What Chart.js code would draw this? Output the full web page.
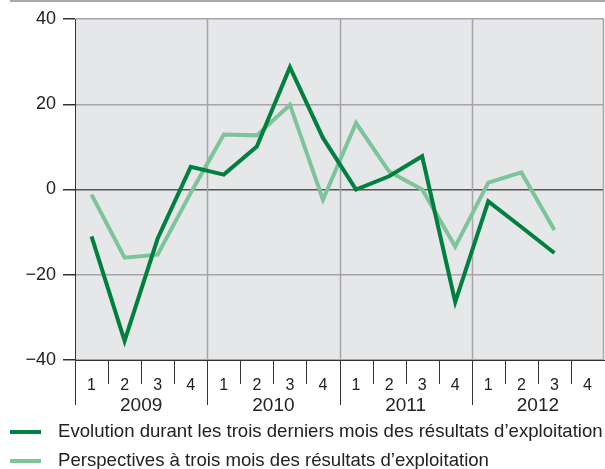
<!DOCTYPE html>
<html>
<head>
<meta charset="utf-8">
<script src="https://cdn.jsdelivr.net/npm/chart.js@4"></script>
<style>
  body { margin: 0; background: #fff; }
  #wrap { width: 605px; height: 469px; }
</style>
</head>
<body>
<div id="wrap"><canvas id="myChart" width="605" height="469"></canvas></div>
<script>
// quarters and years
var quarters = ['1','2','3','4','1','2','3','4','1','2','3','4','1','2','3','4'];
var years = ['2009', '2010', '2011', '2012'];

// Evolution durant les trois derniers mois
var evolution = [-11, -35.5, -11.5, 5.3, 3.5, 10.1, 28.7, 12.1, 0, 3.1, 7.8, -26.4, -2.8, -8.8, -14.9, null];
// Perspectives a trois mois
var perspectives = [-1.2, -16, -15.3, -0.8, 12.9, 12.7, 19.9, -2.4, 15.6, 4.2, 0, -13.4, 1.6, 4, -9.5, null];

var legendLabels = [
  'Evolution durant les trois derniers mois des r\u00e9sultats d\u2019exploitation',
  'Perspectives \u00e0 trois mois des r\u00e9sultats d\u2019exploitation'
];

var darkGreen = '#00803e';
var lightGreen = '#7dc49a';
var font = '"Liberation Sans", Arial, sans-serif';

// extra drawing: year grid, tick marks under x axis, years, legend
var decorPlugin = {
  id: 'decor',
  beforeDatasetsDraw: function(chart){
    var ctx = chart.ctx, x = chart.scales.x, a = chart.chartArea;
    var step = x.getPixelForValue(1) - x.getPixelForValue(0);
    ctx.save();
    ctx.strokeStyle = '#a5a5a8';
    ctx.lineWidth = 1.5;
    for (var i = 4; i < quarters.length; i += 4){
      var px = Math.round(x.getPixelForValue(i) - step/2) + 0.5;
      ctx.beginPath();
      ctx.moveTo(px, a.top);
      ctx.lineTo(px, a.bottom);
      ctx.stroke();
    }
    // right border
    ctx.beginPath();
    ctx.moveTo(a.right - 0.5, a.top);
    ctx.lineTo(a.right - 0.5, a.bottom);
    ctx.stroke();
    ctx.restore();
  },
  afterDraw: function(chart){
    var ctx = chart.ctx, x = chart.scales.x, a = chart.chartArea;
    var step = x.getPixelForValue(1) - x.getPixelForValue(0);
    ctx.save();
    // top rule
    ctx.strokeStyle = '#a8a8a8';
    ctx.lineWidth = 2;
    ctx.beginPath();
    ctx.moveTo(10, 1);
    ctx.lineTo(605, 1);
    ctx.stroke();

    // ticks under axis
    ctx.strokeStyle = '#333';
    ctx.lineWidth = 1;
    for (var i = 0; i < quarters.length; i++){
      var px = Math.round(x.getPixelForValue(i) - step/2) + 0.5;
      ctx.beginPath();
      ctx.moveTo(px, a.bottom);
      ctx.lineTo(px, i % 4 === 0 ? a.bottom + 45 : a.bottom + 24);
      ctx.stroke();
    }
    // years
    ctx.fillStyle = '#222';
    ctx.font = '19px ' + font;
    ctx.textAlign = 'center';
    ctx.textBaseline = 'middle';
    for (var j = 0; j < years.length; j++){
      var cx = (x.getPixelForValue(j*4) + x.getPixelForValue(j*4 + 3)) / 2;
      ctx.fillText(years[j], cx, a.bottom + 46);
    }
    // legend
    var cols = [darkGreen, lightGreen];
    ctx.textAlign = 'left';
    ctx.font = '18.6px ' + font;
    for (var k = 0; k < legendLabels.length; k++){
      var ly = 432 + k*29;
      ctx.strokeStyle = cols[k];
      ctx.lineWidth = 4;
      ctx.beginPath();
      ctx.moveTo(10, ly);
      ctx.lineTo(41, ly);
      ctx.stroke();
      ctx.fillStyle = '#222';
      ctx.fillText(legendLabels[k], 58, ly);
    }
    ctx.restore();
  }
};

var bgPlugin = {
  id: 'bg',
  beforeDraw: function(chart){
    var a = chart.chartArea, ctx = chart.ctx;
    ctx.save();
    ctx.fillStyle = '#e6e7e9';
    ctx.fillRect(a.left, a.top, a.right - a.left, a.bottom - a.top);
    ctx.restore();
  }
};

var ctx = document.getElementById('myChart').getContext('2d');
var myChart = new Chart(ctx, {
  type: 'line',
  data: {
    labels: quarters,
    datasets: [{
      label: legendLabels[0],
      data: evolution,
      borderColor: darkGreen,
      borderWidth: 4,
      pointRadius: 0,
      tension: 0,
      fill: false
    }, {
      label: legendLabels[1],
      data: perspectives,
      borderColor: lightGreen,
      borderWidth: 4,
      pointRadius: 0,
      tension: 0,
      fill: false
    }]
  },
  options: {
    responsive: false,
    animation: false,
    layout: { padding: { top: 19, right: 1, left: 0, bottom: 0 } },
    plugins: {
      legend: { display: false },
      tooltip: { enabled: false }
    },
    scales: {
      x: {
        offset: true,
        grid: { display: false },
        border: { display: true, color: '#333', width: 1 },
        ticks: {
          color: '#222',
          font: { family: font, size: 16 },
          padding: 8,
          maxRotation: 0,
          autoSkip: false
        },
        afterFit: function(scale){ scale.height = 109; }
      },
      y: {
        min: -40,
        max: 40,
        border: { display: true, color: '#333', width: 1 },
        grid: {
          color: function(c){ return c.tick && c.tick.value === 0 ? '#555' : '#a5a5a8'; },
          lineWidth: 1.5,
          tickLength: 12,
          tickColor: '#333',
          drawTicks: true
        },
        ticks: {
          stepSize: 20,
          color: '#222',
          padding: 7,
          font: { family: font, size: 18 },
          callback: function(v){ return String(v).replace('-', '\u2212'); }
        },
        afterFit: function(scale){ scale.width = 75; }
      }
    }
  },
  plugins: [bgPlugin, decorPlugin]
});
</script>
</body>
</html>
